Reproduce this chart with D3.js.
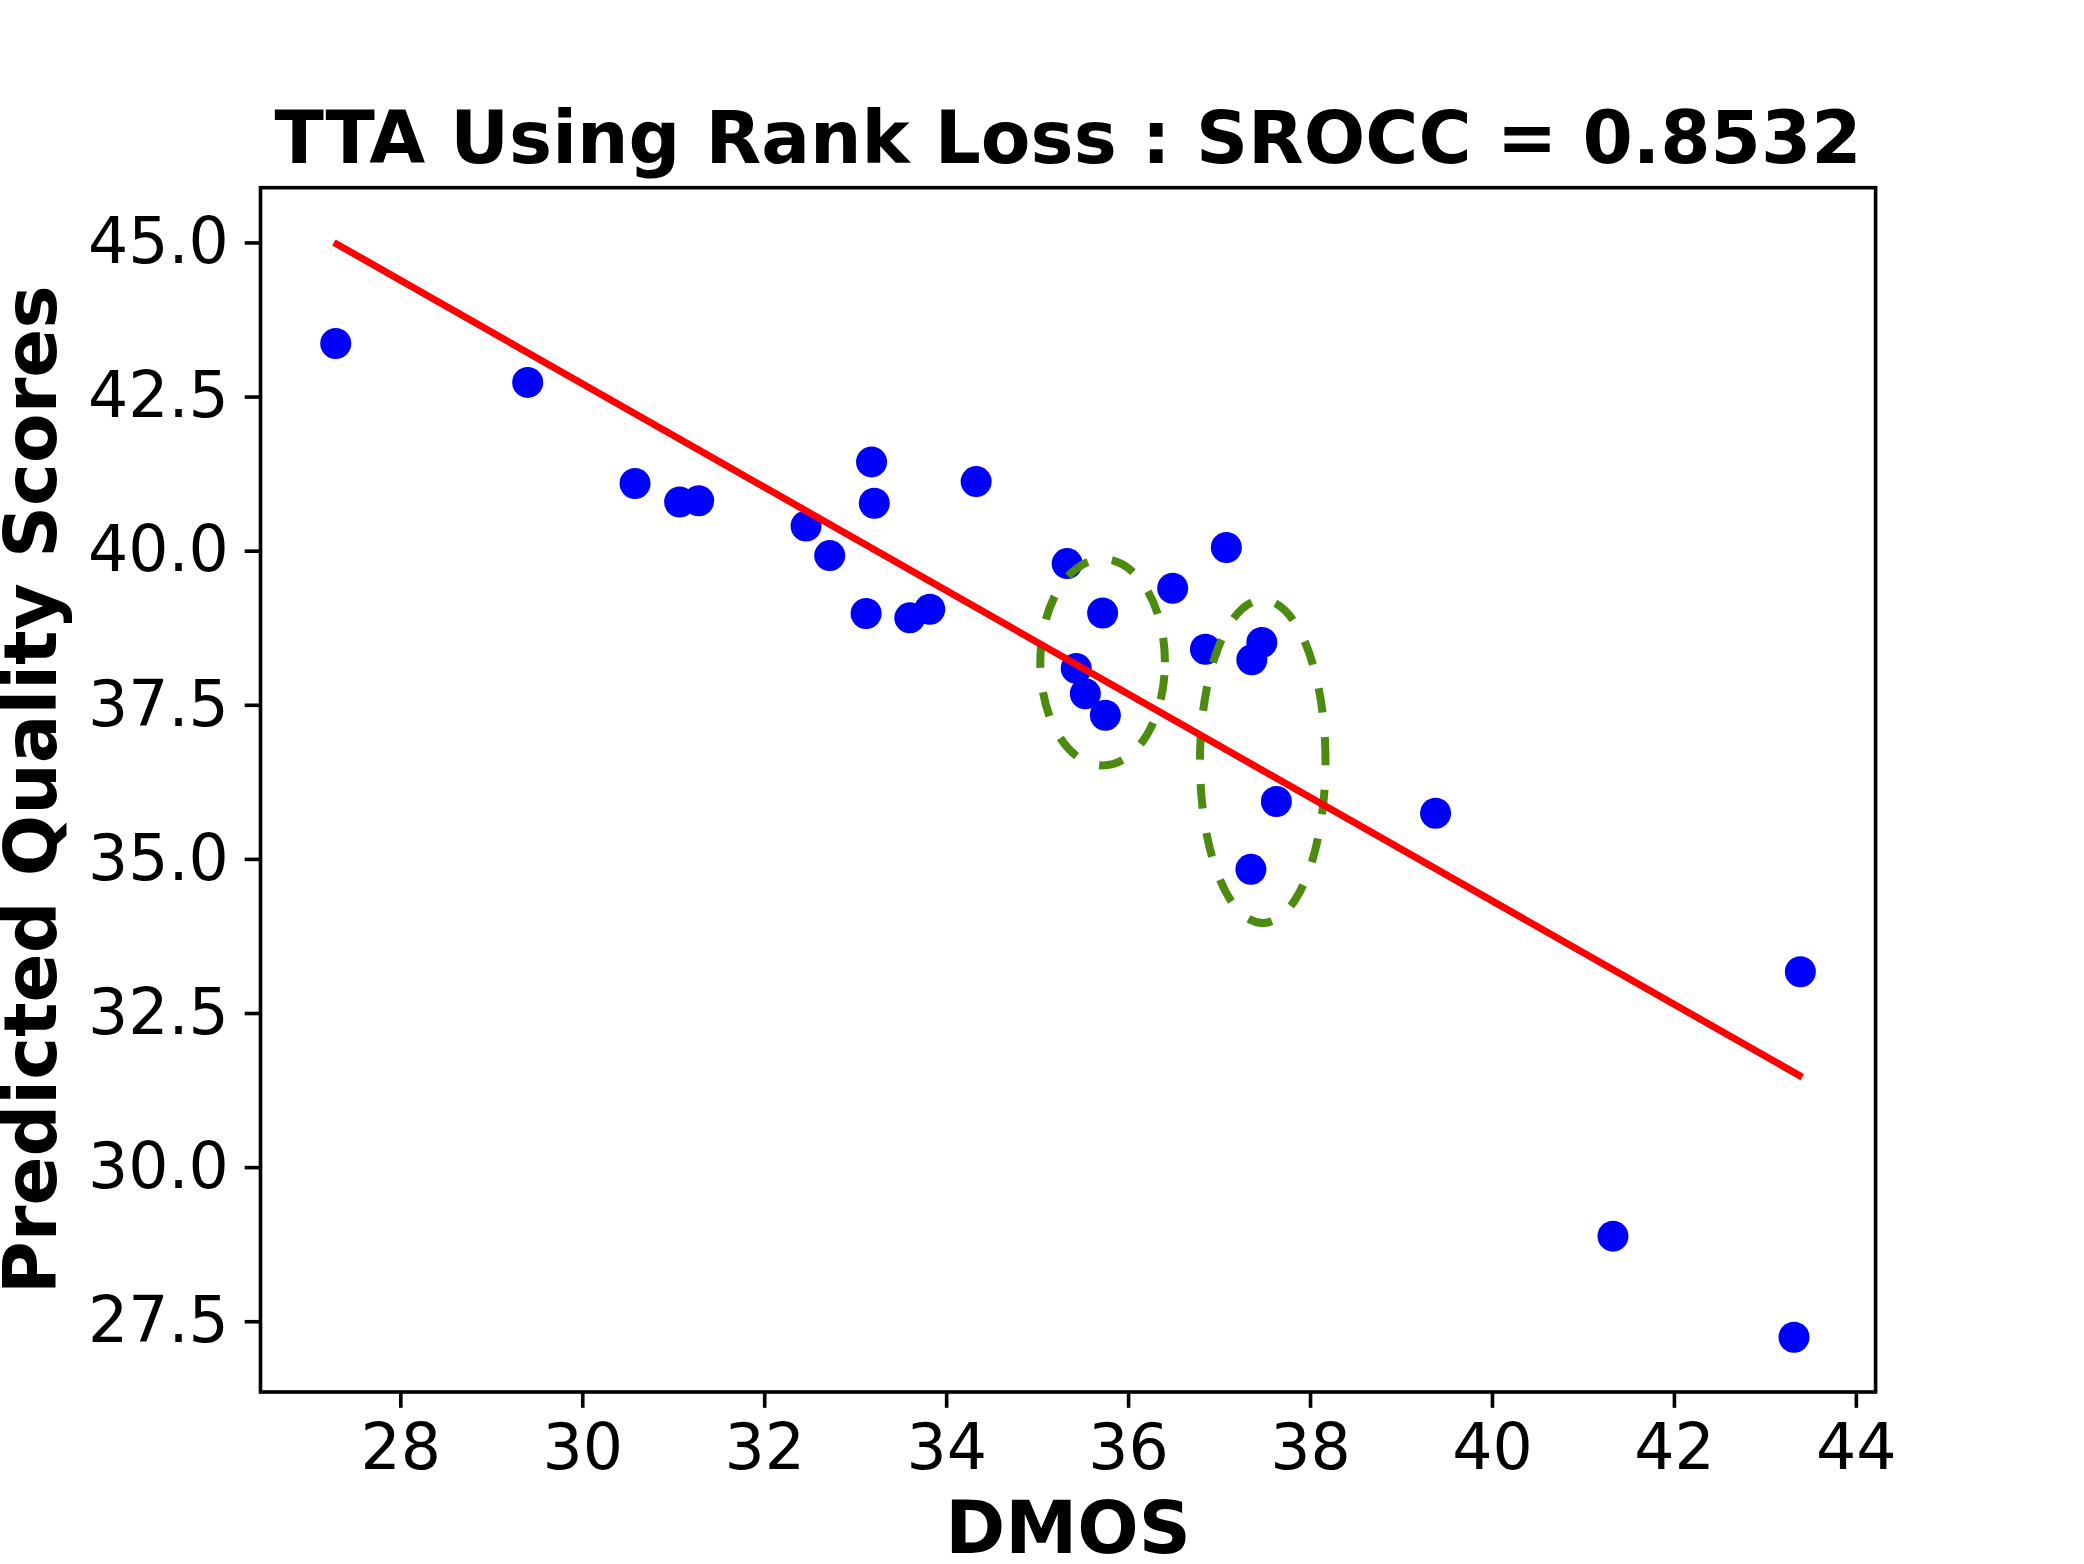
<!DOCTYPE html>
<html>
<head>
<meta charset="utf-8">
<script src="https://cdn.jsdelivr.net/npm/d3@7.9.0/dist/d3.min.js"></script>
<style>
  body { margin: 0; background: #fff; }
  svg { display: block; font-family: "DejaVu Sans", sans-serif; }
</style>
</head>
<body>
<div id="chart"></div>
<script>
// scatter values
const dmos = [27.29, 29.40, 30.58, 31.07, 31.28, 32.46, 32.72, 33.18, 33.21, 33.12,
  33.60, 33.82, 34.33, 35.33, 35.72, 35.43, 35.53, 35.75, 36.49, 36.85,
  37.08, 37.36, 37.47, 37.63, 37.35, 39.38, 41.33, 43.39, 43.32];
const predicted = [43.36, 42.73, 41.09, 40.79, 40.81, 40.40, 39.92, 41.44, 40.77, 38.98,
  38.91, 39.05, 41.12, 39.79, 38.99, 38.09, 37.68, 37.33, 39.39, 38.40,
  40.05, 38.23, 38.51, 35.93, 34.83, 35.74, 28.88, 33.17, 27.24];

// fitted line end points
const fitX = [27.27, 43.41];
const fitY = [45.0, 31.46];

// dashed ellipses: centre x, centre y, width, height (data units)
const ellipseCx = [35.72, 37.48];
const ellipseCy = [38.19, 36.58];
const ellipseW = [1.37, 1.38];
const ellipseH = [3.35, 5.24];

const xTicks = [28, 30, 32, 34, 36, 38, 40, 42, 44];
const yTicks = [27.5, 30.0, 32.5, 35.0, 37.5, 40.0, 42.5, 45.0];

const titleText = 'TTA Using Rank Loss : SROCC = 0.8532';
const xLabel = 'DMOS';
const yLabel = 'Predicted Quality Scores';

const width = 2084;
const height = 1564;
const pt = 325.6 / 72; // px per point
const margin = { left: 260.5, right: 2084 - 1875.6, top: 187.7, bottom: 1564 - 1392 };

const svg = d3.select('#chart')
  .append('svg')
  .attr('width', width)
  .attr('height', height);

// matplotlib style 5% padding
function padded(ext) {
  const s = ext[1] - ext[0];
  return [ext[0] - 0.05 * s, ext[1] + 0.05 * s];
}

const xScale = d3.scaleLinear()
  .domain(padded(d3.extent(dmos.concat(fitX))))
  .range([margin.left, width - margin.right]);
const yScale = d3.scaleLinear()
  .domain(padded(d3.extent(predicted.concat(fitY))))
  .range([height - margin.bottom, margin.top]);

// dots
svg.append('g')
  .selectAll('circle')
  .data(dmos.map((d, i) => [d, predicted[i]]))
  .join('circle')
  .attr('cx', (d) => xScale(d[0]))
  .attr('cy', (d) => yScale(d[1]))
  .attr('r', 15.5)
  .attr('fill', '#0000ff');

// ellipses, drawn from the right-most point going up (like matplotlib)
function ellipsePath(i) {
  const cx = xScale(ellipseCx[i]);
  const cy = yScale(ellipseCy[i]);
  const rx = xScale(ellipseCx[i] + ellipseW[i] / 2) - cx;
  const ry = cy - yScale(ellipseCy[i] + ellipseH[i] / 2);
  return `M${cx + rx},${cy}A${rx},${ry} 0 0 0 ${cx - rx},${cy}A${rx},${ry} 0 0 0 ${cx + rx},${cy}`;
}

svg.append('g')
  .selectAll('path')
  .data(ellipseCx.map((c, i) => i))
  .join('path')
  .attr('d', ellipsePath)
  .attr('fill', 'none')
  .attr('stroke', '#4c8b0f')
  .attr('stroke-width', 8)
  .attr('stroke-dasharray', '24.5 24.5');

// fit line
svg.append('path')
  .datum(fitX.map((d, i) => [d, fitY[i]]))
  .attr('d', d3.line().x((d) => xScale(d[0])).y((d) => yScale(d[1])))
  .attr('fill', 'none')
  .attr('stroke', '#ff0000')
  .attr('stroke-width', 7);

// axes
const tickLen = 3.5 * pt;
const xAxis = svg.append('g')
  .attr('transform', `translate(0,${height - margin.bottom})`)
  .call(d3.axisBottom(xScale).tickValues(xTicks).tickSize(tickLen).tickPadding(tickLen).tickFormat(d3.format('d')));
const yAxis = svg.append('g')
  .attr('transform', `translate(${margin.left},0)`)
  .call(d3.axisLeft(yScale).tickValues(yTicks).tickSize(tickLen).tickPadding(tickLen).tickFormat(d3.format('.1f')));

[xAxis, yAxis].forEach((g) => {
  g.select('.domain').remove();
  g.selectAll('line').attr('stroke', '#000').attr('stroke-width', 0.8 * pt);
  g.selectAll('text')
    .attr('fill', '#000')
    .style('font-family', '"DejaVu Sans", sans-serif')
    .style('font-size', `${14 * pt}px`);
});

// frame
svg.append('rect')
  .attr('x', margin.left)
  .attr('y', margin.top)
  .attr('width', width - margin.left - margin.right)
  .attr('height', height - margin.top - margin.bottom)
  .attr('fill', 'none')
  .attr('stroke', '#000')
  .attr('stroke-width', 0.8 * pt);

// title and labels
svg.append('text')
  .attr('x', (margin.left + width - margin.right) / 2)
  .attr('y', 163)
  .attr('text-anchor', 'middle')
  .style('font-size', `${16 * pt}px`)
  .style('font-weight', 'bold')
  .text(titleText);

svg.append('text')
  .attr('x', (margin.left + width - margin.right) / 2)
  .attr('y', 1553)
  .attr('text-anchor', 'middle')
  .style('font-size', `${16 * pt}px`)
  .style('font-weight', 'bold')
  .text(xLabel);

svg.append('text')
  .attr('transform', `translate(56,${(margin.top + height - margin.bottom) / 2}) rotate(-90)`)
  .attr('text-anchor', 'middle')
  .style('font-size', `${16 * pt}px`)
  .style('font-weight', 'bold')
  .text(yLabel);
</script>
</body>
</html>
